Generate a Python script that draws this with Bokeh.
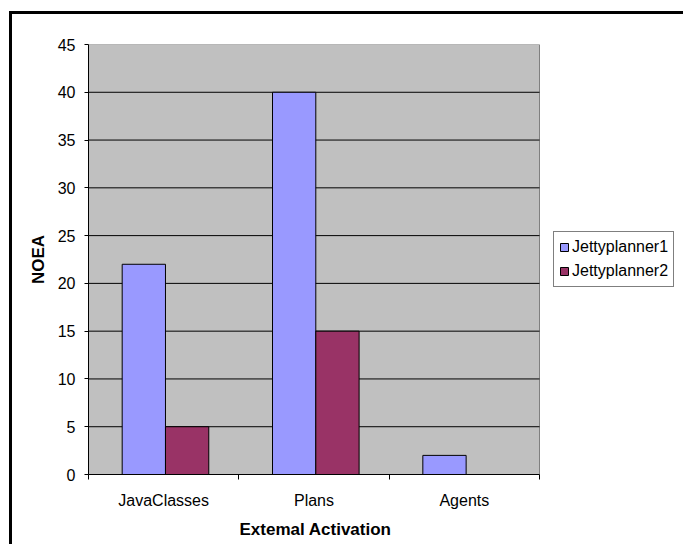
from bokeh.plotting import figure
from bokeh.models import (ColumnDataSource, FixedTicker, Legend, LegendItem,
                          Range1d, Title)
from bokeh.embed import file_html
from bokeh.resources import INLINE

# Data
categories = ["JavaClasses", "Plans", "Agents"]
jettyplanner1 = [22, 40, 2]
jettyplanner2 = [5, 15, 0]
y_ticks = [0, 5, 10, 15, 20, 25, 30, 35, 40, 45]

FONT = "Liberation Sans"
BAR_W = 0.288
N = len(categories)

# The frame also holds the legend area on the right; the shaded plot area
# covers only x in [0, N].
PLOT_W = 451
FRAME_W = 590

centers = [i + 0.512 for i in range(N)]
src1 = ColumnDataSource(dict(x=[c - BAR_W / 2 for c in centers], top=jettyplanner1))
src2 = ColumnDataSource(dict(x=[c + BAR_W / 2 for c in centers], top=jettyplanner2))

p = figure(frame_width=FRAME_W, frame_height=430, output_backend="svg",
           toolbar_location=None,
           x_range=Range1d(0, N * FRAME_W / PLOT_W),
           y_range=Range1d(y_ticks[0], y_ticks[-1]),
           min_border_left=76, min_border_right=5, min_border_top=30,
           min_border_bottom=22)

# chart frame: heavy black rule on the top and left edges
p.styles = {"margin-left": "9px", "margin-top": "11px",
            "border-top": "3px solid black", "border-left": "3px solid black"}

p.background_fill_color = "white"
p.border_fill_color = "white"
p.outline_line_color = None

# shaded plot area
p.quad(left=0, right=N, bottom=y_ticks[0], top=y_ticks[-1],
       fill_color="#C0C0C0", line_color="#808080", line_width=1)

# horizontal gridlines across the plot area
inner = y_ticks[1:-1]
p.segment(x0=[0] * len(inner), x1=[N] * len(inner), y0=inner, y1=inner,
          line_color="black", line_width=1)

r1 = p.vbar(x="x", top="top", width=BAR_W, bottom=0, source=src1,
            fill_color="#9999FF", line_color="black", line_width=1)
r2 = p.vbar(x="x", top="top", width=BAR_W, bottom=0, source=src2,
            fill_color="#993366", line_color="black", line_width=1)

p.xgrid.grid_line_color = None
p.ygrid.grid_line_color = None

# Y axis
p.yaxis.ticker = FixedTicker(ticks=y_ticks)
p.yaxis.axis_line_color = "black"
p.yaxis.major_tick_out = 4
p.yaxis.major_tick_in = 0
p.yaxis.minor_tick_line_color = None
p.yaxis.major_label_standoff = 9
p.yaxis.major_label_text_font = FONT
p.yaxis.major_label_text_font_size = "16px"
p.yaxis.major_label_text_color = "black"
p.yaxis.axis_label = "NOEA"
p.yaxis.axis_label_text_font = FONT
p.yaxis.axis_label_text_font_style = "bold"
p.yaxis.axis_label_text_font_size = "17px"
p.yaxis.axis_label_text_color = "black"
p.yaxis.axis_label_standoff = 7

# X axis: labels at category centres, tick marks at category boundaries
p.xaxis.bounds = (0, N)
p.xaxis.ticker = FixedTicker(ticks=[i + 0.5 for i in range(N)],
                             minor_ticks=list(range(N + 1)))
p.xaxis.major_label_overrides = {i + 0.5: c for i, c in enumerate(categories)}
p.xaxis.axis_line_color = "black"
p.xaxis.major_tick_out = 0
p.xaxis.major_tick_in = 0
p.xaxis.minor_tick_out = 5
p.xaxis.minor_tick_in = 0
p.xaxis.minor_tick_line_color = "black"
p.xaxis.major_label_standoff = 12
p.xaxis.major_label_text_font = FONT
p.xaxis.major_label_text_font_size = "16px"
p.xaxis.major_label_text_color = "black"

# X axis title, placed under the middle of the plot area
xtitle = Title(text="Extemal Activation", align="left", offset=151,
               text_font=FONT, text_font_style="bold", text_font_size="17px",
               text_color="black", standoff=12)
p.add_layout(xtitle, "below")

# Legend to the right of the plot area
legend = Legend(items=[LegendItem(label="Jettyplanner1", renderers=[r1]),
                       LegendItem(label="Jettyplanner2", renderers=[r2])],
                location=(PLOT_W + 14, 187), orientation="vertical")
legend.label_text_font = FONT
legend.label_text_font_size = "16px"
legend.label_text_color = "black"
legend.glyph_width = 10
legend.glyph_height = 10
legend.label_standoff = 3
legend.label_height = 20
legend.spacing = 4
legend.padding = 5
legend.margin = 0
legend.border_line_color = "black"
legend.border_line_width = 1
legend.background_fill_color = "white"
legend.background_fill_alpha = 1
p.add_layout(legend, "center")

open("out.html", "w").write(file_html(p, INLINE))
